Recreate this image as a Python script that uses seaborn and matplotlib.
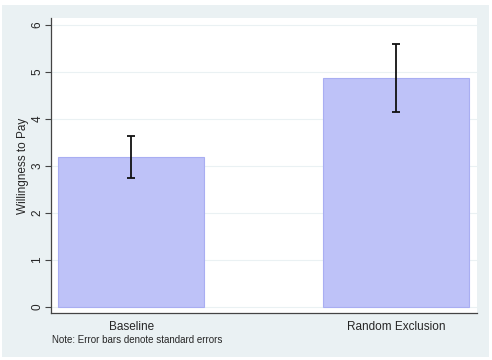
import numpy as np
import pandas as pd
import matplotlib
matplotlib.use("Agg")
import matplotlib.pyplot as plt
import seaborn as sns
from matplotlib.patches import Rectangle

# values
groups = ["Baseline", "Random Exclusion"]
means = [3.19, 4.87]
std_err = [0.455, 0.725]

df = pd.DataFrame({"group": groups, "wtp": means})

sns.set_style("white")
plt.rcParams['font.family'] = ['Liberation Sans', 'DejaVu Sans']

fig = plt.figure(figsize=(4.92, 3.6), dpi=100, facecolor="white")
# thin white frame round the grey graph region
fig.patches.append(Rectangle((2 / 492, 3 / 360), 487 / 492, 352 / 360,
                             transform=fig.transFigure, facecolor="#EAF1F3",
                             edgecolor="none", zorder=-10))
ax = fig.add_axes([0.104, 0.13, 0.866, 0.821])
ax.set_facecolor("white")

sns.barplot(data=df, x="group", y="wtp", color="#BEC2F8", saturation=1,
            width=0.55, edgecolor="#A9AEF2", linewidth=0.8, ax=ax, zorder=2)
ax.errorbar(x=np.arange(len(groups)), y=means, yerr=std_err, fmt="none",
            ecolor="#111111", elinewidth=1.3, capsize=3, capthick=1.3, zorder=3)

ax.set_xlim(-0.302, 1.306)
ax.set_ylim(-0.13, 6.155)
ax.set_yticks(range(0, 7))
ax.grid(axis="y", color="#EAF1F3", linewidth=0.8, zorder=0)
ax.set_axisbelow(True)

for side in ["top", "right"]:
    ax.spines[side].set_visible(False)
for side in ["left", "bottom"]:
    ax.spines[side].set_color("#444444")
    ax.spines[side].set_linewidth(0.9)

ax.tick_params(axis="y", which="both", left=True, length=4, width=0.8,
               color="#444444", labelsize=8.5, pad=1.5)
ax.tick_params(axis="x", bottom=False, labelsize=8.5, pad=2)
for lab in ax.get_yticklabels():
    lab.set_rotation(90)
    lab.set_va("center")

ax.set_xlabel("")
ax.set_ylabel("Willingness to Pay", fontsize=8.5, labelpad=2)

fig.text(0.106, 0.055, "Note: Error bars denote standard errors", fontsize=7,
         ha="left", va="center")

fig.savefig("out.png", dpi=100, facecolor=fig.get_facecolor())
